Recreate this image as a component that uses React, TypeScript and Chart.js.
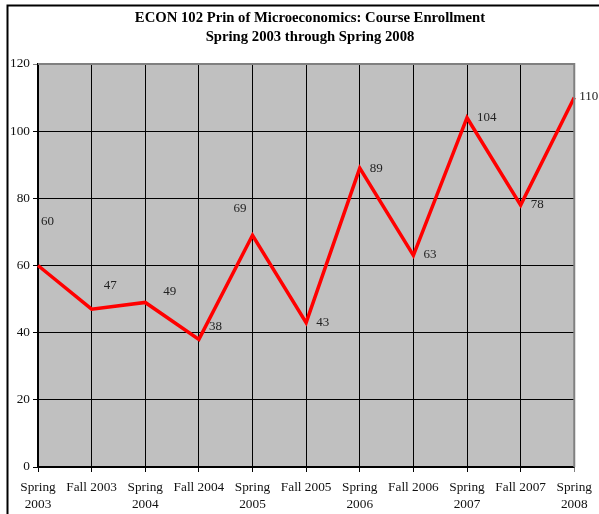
import React, { useEffect, useRef } from "react";
import { Chart, registerables } from "chart.js";

Chart.register(...registerables);

// Course enrollment by term
const terms: (string | string[])[] = [
  ["Spring", "2003"],
  "Fall 2003",
  ["Spring", "2004"],
  "Fall 2004",
  ["Spring", "2005"],
  "Fall 2005",
  ["Spring", "2006"],
  "Fall 2006",
  ["Spring", "2007"],
  "Fall 2007",
  ["Spring", "2008"],
];
const enrollment = [60, 47, 49, 38, 69, 43, 89, 63, 104, 78, 110];

const titleLines = [
  "ECON 102 Prin of Microeconomics: Course Enrollment",
  "Spring 2003 through Spring 2008",
];

// value label nudges relative to each point (px)
const labelDx = [3, 12, 18, 10, -19, 10, 10, 10, 10, 10, 5];
const labelDy = [-44, -24, -11, -13, -27, 0, 0, -1, 0, 0, -1];

const SERIF = "'Liberation Serif', 'Times New Roman', serif";

const decorPlugin = {
  id: "decor",
  beforeDraw(chart: any) {
    const { ctx, chartArea: a } = chart;
    ctx.save();
    ctx.fillStyle = "#C0C0C0";
    ctx.fillRect(a.left, a.top, a.right - a.left, a.bottom - a.top);
    ctx.restore();
  },
  afterDraw(chart: any) {
    const { ctx, chartArea: a } = chart;
    ctx.save();
    // outer frame
    ctx.strokeStyle = "#000";
    ctx.lineWidth = 2;
    ctx.beginPath();
    ctx.moveTo(7.5, 520);
    ctx.lineTo(7.5, 5.5);
    ctx.lineTo(620, 5.5);
    ctx.stroke();

    // plot border top / right
    ctx.strokeStyle = "#808080";
    ctx.lineWidth = 2;
    ctx.beginPath();
    ctx.moveTo(a.left, a.top);
    ctx.lineTo(a.right, a.top);
    ctx.lineTo(a.right, a.bottom);
    ctx.stroke();

    // title
    ctx.fillStyle = "#000";
    ctx.font = `bold 14.7px ${SERIF}`;
    ctx.textAlign = "center";
    ctx.textBaseline = "middle";
    ctx.fillText(titleLines[0], 310, 18);
    ctx.fillText(titleLines[1], 310, 37);

    // value labels
    const meta = chart.getDatasetMeta(0);
    ctx.font = `13px ${SERIF}`;
    ctx.fillStyle = "#222";
    ctx.textAlign = "left";
    meta.data.forEach((pt: any, i: number) => {
      ctx.fillText(String(enrollment[i]), pt.x + labelDx[i], pt.y + labelDy[i]);
    });
    ctx.restore();
  },
};

export default function App() {
  const ref = useRef<HTMLCanvasElement | null>(null);

  useEffect(() => {
    if (!ref.current) return;
    const chart = new Chart(ref.current, {
      type: "line",
      data: {
        labels: terms,
        datasets: [
          {
            data: enrollment,
            borderColor: "#FF0000",
            borderWidth: 3.5,
            pointRadius: 0,
            tension: 0,
            fill: false,
          },
        ],
      },
      options: {
        animation: false,
        responsive: false,
        maintainAspectRatio: false,
        layout: { padding: { top: 64, right: 24, left: 0, bottom: 0 } },
        plugins: {
          legend: { display: false },
          title: { display: false },
          tooltip: { enabled: false },
        },
        scales: {
          x: {
            offset: false,
            grid: {
              color: (c: any) => (c.index === terms.length - 1 ? "#808080" : "#000"),
              lineWidth: 1,
              tickLength: 5,
              drawTicks: true,
            },
            border: { color: "#000", width: 1.5 },
            ticks: {
              color: "#111",
              font: { family: SERIF, size: 13.3, lineHeight: 1.28 },
              padding: 7,
              maxRotation: 0,
              autoSkip: false,
            },
            afterFit: (s: any) => {
              s.height = 47;
            },
          },
          y: {
            min: 0,
            max: 120,
            grid: {
              color: (c: any) => (c.tick && c.tick.value === 120 ? "#808080" : "#000"),
              lineWidth: 1,
              tickLength: 5,
            },
            border: { color: "#000", width: 1.5 },
            ticks: {
              stepSize: 20,
              color: "#111",
              font: { family: SERIF, size: 13.3 },
              padding: 3,
            },
            afterFit: (s: any) => {
              s.width = 38;
            },
          },
        },
      },
      plugins: [decorPlugin],
    });
    return () => chart.destroy();
  }, []);

  return (
    <canvas
      ref={ref}
      width={599}
      height={514}
      style={{ position: "fixed", left: 0, top: 0, width: 599, height: 514 }}
    />
  );
}
